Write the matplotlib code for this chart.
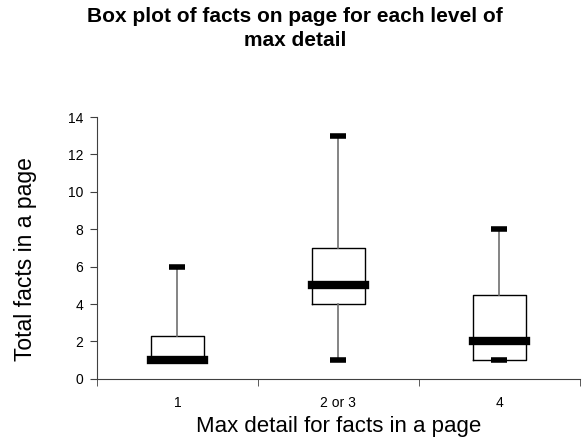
import matplotlib
matplotlib.use("Agg")
import matplotlib.pyplot as plt

plt.rcParams['font.family'] = ['Liberation Sans', 'DejaVu Sans']

# box plot summary per level of max detail
categories = ["1", "2 or 3", "4"]
q1 = [1, 4, 1]
medians = [1, 5, 2]
q3 = [2.3, 7, 4.5]
whisker_low = [1, 1, 1]
whisker_high = [6, 13, 8]
y_ticks = [0, 2, 4, 6, 8, 10, 12, 14]

stats = []
for i in range(len(categories)):
	stats.append({"label": categories[i], "q1": q1[i], "med": medians[i], "q3": q3[i],
				"whislo": whisker_low[i], "whishi": whisker_high[i], "fliers": []})

fig = plt.figure(figsize=(5.84, 4.40), dpi=100)
ax = fig.add_axes([0.166, 0.139, 0.827, 0.595])

positions = [1, 2, 3]
ax.bxp(stats, positions=positions, widths=0.33, showfliers=False, capwidths=0.1,
	boxprops=dict(color="black", linewidth=1.0),
	whiskerprops=dict(color="#707070", linewidth=1.2),
	capprops=dict(color="black", linewidth=4, solid_capstyle="butt"),
	medianprops=dict(color="black", linewidth=6, solid_capstyle="projecting"))

ax.set_xlim(0.5, 3.5)
ax.set_ylim(0, 14)
ax.set_yticks(y_ticks)
ax.set_xticks(positions)
ax.set_xticklabels(categories)
ax.tick_params(axis="x", length=0, labelsize=10, pad=12)
ax.set_xticks([0.5, 1.5, 2.5, 3.5], minor=True)
ax.tick_params(axis="x", which="minor", length=5, direction="out", color="#404040")
ax.tick_params(axis="y", length=5, direction="out", labelsize=10, pad=5, color="#404040")

for side in ["top", "right"]:
	ax.spines[side].set_visible(False)
ax.spines["left"].set_color("#404040")
ax.spines["bottom"].set_color("#404040")

ax.set_xlabel("Max detail for facts in a page", fontsize=16, labelpad=5)
ax.set_ylabel("Total facts in a page", fontsize=16.5)
ax.yaxis.set_label_coords(-0.125, 0.457)
fig.suptitle("Box plot of facts on page for each level of\nmax detail", fontsize=15,
	fontweight="bold", x=0.505, y=0.985, linespacing=1.35)

plt.savefig("out.png", dpi=100)
